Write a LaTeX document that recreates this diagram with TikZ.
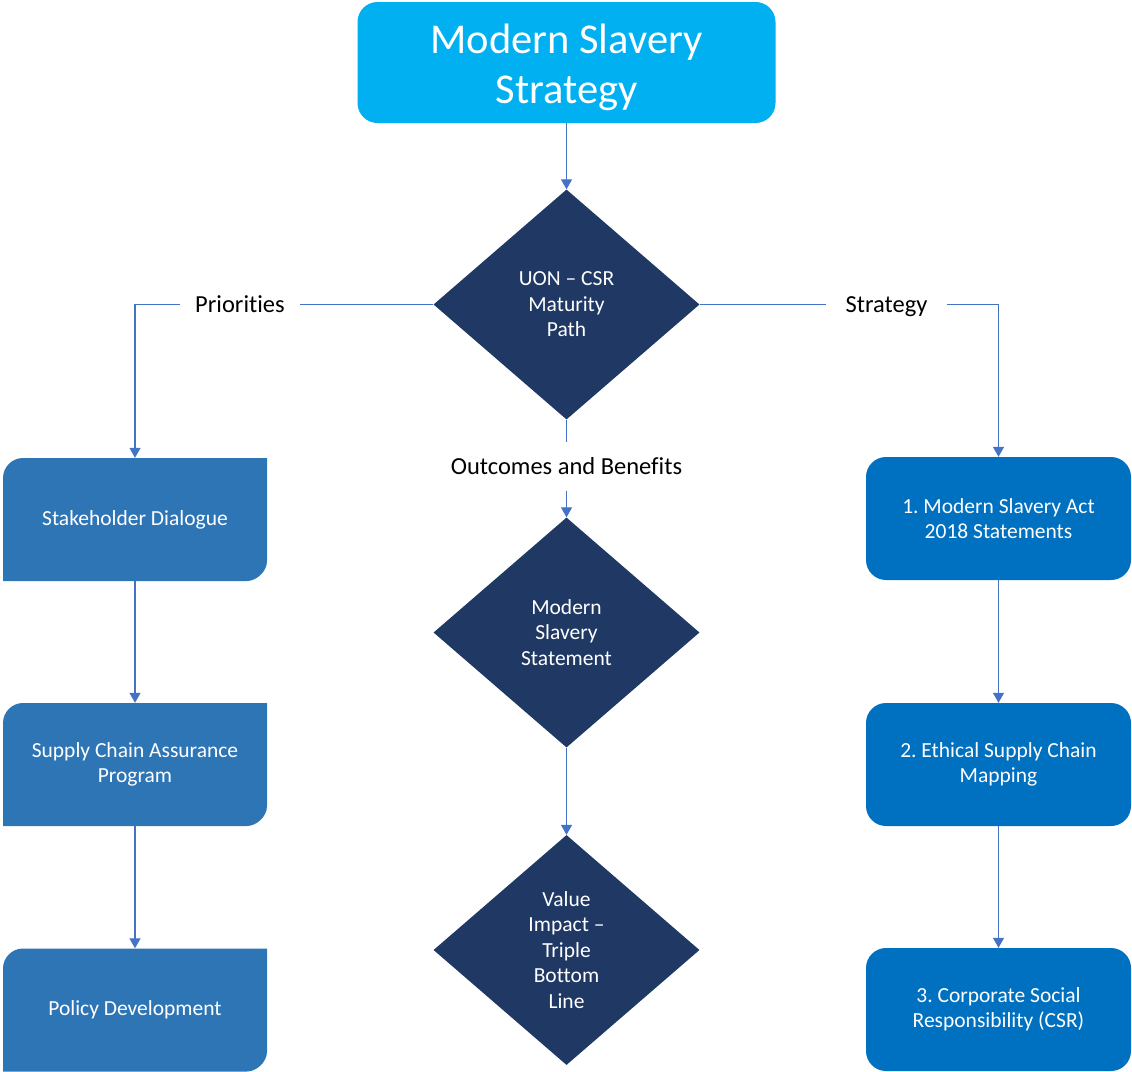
\documentclass[tikz,border=0pt]{standalone}
\usepackage{fontspec}
\setmainfont{Carlito}[Ligatures=NoCommon]
\usetikzlibrary{shapes.geometric,arrows.meta,backgrounds}
\definecolor{topc}{HTML}{00B0F0}
\definecolor{leftc}{HTML}{2E75B6}
\definecolor{rightc}{HTML}{0070C0}
\definecolor{navy}{HTML}{1F3864}
\definecolor{linec}{HTML}{4472C4}
\frenchspacing
\begin{document}
\begin{tikzpicture}[x=1pt,y=-1pt,
  topbox/.style={rectangle, rounded corners=20pt, fill=topc, minimum width=418pt, minimum height=121pt, inner sep=0pt},
  toptext/.style={inner sep=0pt, text=white, font=\fontsize{42.5}{50}\selectfont, align=center},
  leftbox/.style={rectangle, minimum width=264pt, minimum height=123pt, inner sep=0pt, text=white, font=\fontsize{21.5}{25.5}\selectfont, align=center},
  rightbox/.style={rectangle, rounded corners=20pt, fill=rightc, minimum width=265pt, minimum height=123pt, inner sep=0pt, text=white, font=\fontsize{21.5}{25.5}\selectfont, align=center},
  dia/.style={diamond, fill=navy, minimum width=266pt, minimum height=230pt, inner sep=0pt, text=white, font=\fontsize{21.5}{25.5}\selectfont, align=center},
  lbl/.style={inner sep=0pt, text=black, text height=18.5pt, text depth=3pt, font=\fontsize{24.5}{29}\selectfont},
  conn/.style={draw=linec, line width=1.3pt},
  arr/.style={conn, -{Triangle[width=11pt,length=10pt]}}
]
\useasboundingbox (0,0) rectangle (1132,1071);

% left box backgrounds (rounded top-left and bottom-right corners)
\foreach \t in {458,703,948.5}{
  \fill[leftc] (23,\t) -- (267,\t) -- (267,{\t+103})
    .. controls (267,{\t+114}) and (256,{\t+123}) .. (247,{\t+123})
    -- (3,{\t+123}) -- (3,{\t+20})
    .. controls (3,{\t+9}) and (12,\t) .. (23,\t) -- cycle;
}

\node[topbox] (top) at (566.5,62.5) {};
\node[toptext] (toptxt) at (566.5,67) {Modern Slavery\\Strategy};

\node[dia] (d1) at (566.5,304.5) {UON -- CSR\\Maturity\\Path};
\node[dia] (d2) at (566.5,632.5) {Modern\\Slavery\\Statement};
\node[dia] (d3) at (566.5,950) {Value\\Impact --\\Triple\\Bottom\\Line};

\node[leftbox] (sd) at (135,519.5) {Stakeholder Dialogue};
\node[leftbox] (sca) at (135,764.5) {Supply Chain Assurance\\Program};
\node[leftbox] (pd) at (135,1010) {Policy Development};

\node[rightbox] (ma) at (998.5,518.5) {1. Modern Slavery Act\\2018 Statements};
\node[rightbox] (esc) at (998.5,764.5) {2. Ethical Supply Chain\\Mapping};
\node[rightbox] (csr) at (998.5,1009.5) {3. Corporate Social\\Responsibility (CSR)};

\node[lbl, minimum width=119pt] (pri) at (240,304.5) {Priorities};
\node[lbl, minimum width=121pt] (str) at (886.5,304.5) {Strategy};
\node[lbl, minimum height=48pt] (ob) at (566.5,466.5) {Outcomes and Benefits};

\draw[arr] (top.south) -- (d1.north);
\draw[conn] (d1.west) -- (pri.east);
\draw[arr] (pri.west) -| (sd.north);
\draw[conn] (d1.east) -- (str.west);
\draw[arr] (str.east) -| (ma.north);
\draw[conn] (d1.south) -- (ob.north);
\draw[arr] (ob.south) -- (d2.north);
\draw[arr] (d2.south) -- (d3.north);
\draw[arr] (sd.south) -- (sca.north);
\draw[arr] (sca.south) -- (pd.north);
\draw[arr] (ma.south) -- (esc.north);
\draw[arr] (esc.south) -- (csr.north);
\end{tikzpicture}
\end{document}
